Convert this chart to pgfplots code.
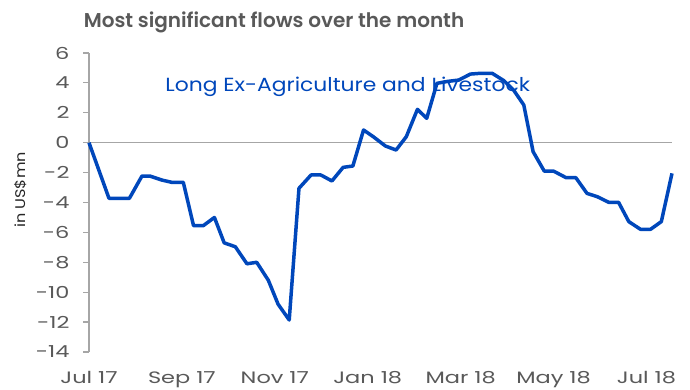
\documentclass[border=0pt]{standalone}
\usepackage{pgfplots}
\pgfplotsset{compat=1.18}
\usepackage{fontspec}
\setmainfont{Poppins}[FakeStretch=1.15]
\newfontfamily\tickfont{Poppins}[FakeStretch=1.36]
\newfontfamily\titlefont{Poppins SemiBold}[FakeStretch=1.0]
\definecolor{lineblue}{RGB}{0,71,187}
\definecolor{txtgray}{RGB}{89,89,89}
\definecolor{axgray}{RGB}{166,166,166}
\begin{document}
\begin{tikzpicture}[x=1pt,y=1pt]
\useasboundingbox (0,0) rectangle (690,390);
\begin{axis}[
  at={(89pt,38pt)}, anchor=south west,
  scale only axis, width=583pt, height=299pt,
  xmin=0, xmax=12.55, ymin=-14, ymax=6,
  axis x line*=bottom, axis y line*=left,
  x axis line style={draw=none},
  y axis line style={draw=axgray, line width=1.2pt},
  xtick={0,2,4,6,8,10,12},
  xticklabels={Jul 17,Sep 17,Nov 17,Jan 18,Mar 18,May 18,Jul 18},
  ytick={-14,-12,...,6},
  major x tick style={draw=none},
  major y tick style={draw=axgray, line width=1.2pt},
  tick align=outside, major tick length=6pt,
  tick label style={font=\fontsize{16.5}{18}\tickfont, text=txtgray},
  /pgf/number format/assume math mode=true,
  yticklabel style={xshift=-10pt},
  xticklabel style={yshift=-10pt},
  clip=false,
]
\addplot[axgray, line width=1.2pt, forget plot] coordinates {(0,0) (12.55,0)};
\addplot[lineblue, line width=3.5pt, line join=round] coordinates {
(0,0) (0.43,-3.72) (0.87,-3.72) (1.14,-2.23) (1.31,-2.23) (1.57,-2.5) (1.78,-2.65) (2.03,-2.65)
(2.25,-5.55) (2.46,-5.55) (2.70,-5.0) (2.91,-6.7) (3.15,-6.96) (3.40,-8.1) (3.61,-8.0)
(3.86,-9.2) (4.07,-10.8) (4.31,-11.86) (4.52,-3.05) (4.78,-2.16) (4.99,-2.16) (5.23,-2.56)
(5.47,-1.65) (5.68,-1.56) (5.91,0.85) (6.12,0.4) (6.38,-0.22) (6.61,-0.49) (6.83,0.4)
(7.07,2.23) (7.27,1.63) (7.49,3.97) (7.72,4.1) (7.96,4.19) (8.21,4.59) (8.42,4.64) (8.68,4.64)
(8.93,4.15) (9.14,3.52) (9.36,2.52) (9.56,-0.6) (9.80,-1.9) (10.00,-1.9) (10.27,-2.34)
(10.48,-2.34) (10.72,-3.39) (10.94,-3.61) (11.19,-3.99) (11.40,-3.99) (11.62,-5.28)
(11.87,-5.79) (12.09,-5.79) (12.32,-5.28) (12.55,-2.05)
};
\node[anchor=west, text=lineblue, font=\fontsize{19}{21}\selectfont, inner sep=0pt] at (axis cs:1.64,3.73) {Long Ex-Agriculture and Livestock};
\end{axis}
\node[text=txtgray, font=\fontsize{20}{22}\titlefont] at (274,368) {Most significant flows over the month};
\node[rotate=90, text=black!85, font=\fontsize{14}{16}\selectfont] at (21,200) {in US\$mn};
\end{tikzpicture}
\end{document}
